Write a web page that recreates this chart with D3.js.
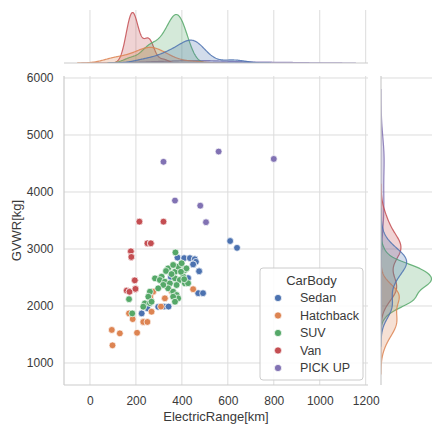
<!DOCTYPE html>
<html>
<head>
<meta charset="utf-8">
<script src="https://cdn.jsdelivr.net/npm/d3@7"></script>
<style>
  body { margin: 0; background: #fff; }
  svg { font-family: "Liberation Sans", Arial, sans-serif; }
</style>
</head>
<body>
<svg id="chart" width="432" height="428"></svg>
<script>
// 데이터: [ElectricRange(km), GVWR(kg)] — 같은 좌표가 반복되면 겹쳐 찍힌 점
const carBodies = ["Sedan", "Hatchback", "SUV", "Van", "PICK UP"];
const colors = ["#4c72b0", "#dd8452", "#55a868", "#c44e52", "#8172b3"];

const sedan = [[381,2850],[381,2850],[410,2840],[410,2840],[435,2840],[435,2840],
  [456,2820],[456,2820],[461,2775],[449,2730],[449,2730],[475,2610],[475,2610],
  [471,2225],[492,2225],[348,2400],[427,2490],[427,2490],[352,2510],[297,1985],[322,1990],[342,1990],
  [250,1960],[225,1870],[610,3140],[640,3020]];
const hatchback = [[95,1580],[130,1520],[205,1530],[98,1310],[170,1870],[186,1770],
  [232,1720],[232,1720],[250,1720],[268,1900],[309,1990],
  [326,2135],[326,2135],[275,2250],[275,2250],[262,2160],[262,2160],[449,2295],[355,2260]];
const suv = [[372,2940],[340,2660],[331,2614],[370,2600],[399,2720],[413,2631],[384,2690],
  [406,2514],[312,2514],[283,2485],[304,2456],[326,2426],[348,2397],[370,2485],[391,2456],
  [377,2368],[413,2397],[340,2310],[362,2251],[377,2193],[384,2134],[362,2163],[261,2251],
  [254,2163],[239,2047],[232,1988],[261,2050],[370,2075],[170,2120],[184,1870],[268,2075],
  [420,2660],[399,2750],[427,2400],[362,2720],[355,2560],[396,2600],[319,2370],[297,2310],[410,2470]];
const van = [[178,2960],[178,2960],[178,2960],[180,2860],[180,2860],[180,2860],
  [195,2450],[195,2450],[195,2450],[160,2270],[160,2270],[172,2250],[172,2250],
  [198,2300],[198,2300],[198,2300],
  [215,3480],[215,3480],[250,3100],[250,3100],[250,3100],[250,3100],
  [265,3100],[265,3100],[265,3100],[320,3480]];
const pickup = [[320,4530],[560,4710],[800,4580],[370,3850],[480,3760],[505,3470]];

const groups = [sedan, hatchback, suv, van, pickup];
const xTicks = [0, 200, 400, 600, 800, 1000, 1200];
const yTicks = [1000, 2000, 3000, 4000, 5000, 6000];

// 레이아웃
const main = { left: 64, right: 368, top: 76, bottom: 385 };
const topM = { top: 10, bottom: 63 };
const rightM = { left: 381, right: 434 };

const svg = d3.select("#chart");

const x = d3.scaleLinear().domain([-113, 1210]).range([main.left, main.right]);
const y = d3.scaleLinear().domain([614, 6035]).range([main.bottom, main.top]);

const gridColor = "#dcdcdc";
const spineColor = "#cccccc";

// 클립 영역
const defs = svg.append("defs");
defs.append("clipPath").attr("id", "clipTop").append("rect")
  .attr("x", main.left).attr("y", topM.top - 5)
  .attr("width", main.right - main.left).attr("height", topM.bottom - topM.top + 5);
defs.append("clipPath").attr("id", "clipRight").append("rect")
  .attr("x", rightM.left).attr("y", main.top)
  .attr("width", rightM.right - rightM.left + 5).attr("height", main.bottom - main.top);
defs.append("clipPath").attr("id", "clipMain").append("rect")
  .attr("x", main.left).attr("y", main.top)
  .attr("width", main.right - main.left).attr("height", main.bottom - main.top);

// 그리드
svg.append("g").selectAll("line").data(xTicks).join("line")
  .attr("x1", d => x(d)).attr("x2", d => x(d))
  .attr("y1", main.top).attr("y2", main.bottom)
  .attr("stroke", gridColor);
svg.append("g").selectAll("line").data(yTicks).join("line")
  .attr("x1", main.left).attr("x2", main.right)
  .attr("y1", d => y(d)).attr("y2", d => y(d))
  .attr("stroke", gridColor);
// 주변 그래프 그리드
svg.append("g").selectAll("line").data(xTicks).join("line")
  .attr("x1", d => x(d)).attr("x2", d => x(d))
  .attr("y1", topM.top).attr("y2", topM.bottom)
  .attr("stroke", gridColor);
svg.append("g").selectAll("line").data(yTicks).join("line")
  .attr("x1", rightM.left).attr("x2", rightM.right)
  .attr("y1", d => y(d)).attr("y2", d => y(d))
  .attr("stroke", gridColor);

// KDE (scott bandwidth, cut=3, common_norm)
const nTotal = d3.sum(groups, g => g.length);
function kde(values) {
  const n = values.length;
  const bw = d3.deviation(values) * Math.pow(n, -0.2);
  const lo = d3.min(values) - 3 * bw, hi = d3.max(values) + 3 * bw;
  const pts = [];
  for (let i = 0; i < 200; i++) {
    const g = lo + (hi - lo) * i / 199;
    let s = 0;
    for (const v of values) s += Math.exp(-0.5 * ((g - v) / bw) ** 2);
    pts.push([g, s / (n * bw * Math.sqrt(2 * Math.PI)) * (n / nTotal)]);
  }
  return pts;
}

const kdeX = groups.map(g => kde(g.map(d => d[0])));
const kdeY = groups.map(g => kde(g.map(d => d[1])));

const topScale = d3.scaleLinear()
  .domain([0, d3.max(kdeX, k => d3.max(k, d => d[1])) * 1.05])
  .range([topM.bottom, topM.top]);
const rightScale = d3.scaleLinear()
  .domain([0, d3.max(kdeY, k => d3.max(k, d => d[1])) * 1.05])
  .range([rightM.left, rightM.right]);

const topArea = d3.area().x(d => x(d[0])).y0(topM.bottom).y1(d => topScale(d[1]));
const rightArea = d3.area().y(d => y(d[0])).x0(rightM.left).x1(d => rightScale(d[1]));

const order = d3.range(groups.length).reverse();

svg.append("g").attr("clip-path", "url(#clipTop)")
  .selectAll("path").data(order).join("path")
  .attr("d", i => topArea(kdeX[i]))
  .attr("fill", i => colors[i]).attr("fill-opacity", 0.25)
  .attr("stroke", i => colors[i]).attr("stroke-width", 1.2).attr("stroke-opacity", 0.85);

svg.append("g").attr("clip-path", "url(#clipRight)")
  .selectAll("path").data(order).join("path")
  .attr("d", i => rightArea(kdeY[i]))
  .attr("fill", i => colors[i]).attr("fill-opacity", 0.25)
  .attr("stroke", i => colors[i]).attr("stroke-width", 1.2).attr("stroke-opacity", 0.85);

// 축선
svg.append("line").attr("x1", main.left).attr("x2", main.left)
  .attr("y1", main.top).attr("y2", main.bottom).attr("stroke", spineColor).attr("stroke-width", 1.2);
svg.append("line").attr("x1", main.left).attr("x2", main.right)
  .attr("y1", main.bottom).attr("y2", main.bottom).attr("stroke", spineColor).attr("stroke-width", 1.2);
svg.append("line").attr("x1", main.left).attr("x2", main.right)
  .attr("y1", topM.bottom).attr("y2", topM.bottom).attr("stroke", spineColor).attr("stroke-width", 1.2);
svg.append("line").attr("x1", rightM.left).attr("x2", rightM.left)
  .attr("y1", main.top).attr("y2", main.bottom).attr("stroke", spineColor).attr("stroke-width", 1.2);

// 산점도
const points = [];
groups.forEach((g, i) => g.forEach(d => points.push({ x: d[0], y: d[1], c: i })));
svg.append("g").attr("clip-path", "url(#clipMain)")
  .selectAll("circle").data(points).join("circle")
  .attr("cx", d => x(d.x)).attr("cy", d => y(d.y)).attr("r", 3.4)
  .attr("fill", d => colors[d.c])
  .attr("stroke", "#fff").attr("stroke-width", 0.7);

// 축 눈금 라벨
const xAxis = svg.append("g").attr("transform", `translate(0,${main.bottom})`)
  .call(d3.axisBottom(x).tickValues(xTicks).tickFormat(d3.format("d")).tickSize(0).tickPadding(11.5));
const yAxis = svg.append("g").attr("transform", `translate(${main.left},0)`)
  .call(d3.axisLeft(y).tickValues(yTicks).tickFormat(d3.format("d")).tickSize(0).tickPadding(10.5));
[xAxis, yAxis].forEach(a => {
  a.select(".domain").remove();
  a.selectAll("text").attr("font-size", 12).attr("fill", "#3a3a3a")
    .style("font-family", "'Liberation Sans', Arial, sans-serif");
});

svg.append("text").attr("x", (main.left + main.right) / 2).attr("y", 421)
  .attr("text-anchor", "middle").attr("font-size", 13).attr("fill", "#3a3a3a")
  .text("ElectricRange[km]");
svg.append("text")
  .attr("transform", `translate(21,${(main.top + main.bottom) / 2}) rotate(-90)`)
  .attr("text-anchor", "middle").attr("font-size", 13).attr("fill", "#3a3a3a")
  .text("GVWR[kg]");

// 범례
const legend = svg.append("g");
legend.append("rect").attr("x", 260).attr("y", 268).attr("width", 103).attr("height", 112)
  .attr("rx", 3).attr("fill", "#fff").attr("fill-opacity", 0.85)
  .attr("stroke", spineColor);
legend.append("text").attr("x", 311.5).attr("y", 285).attr("text-anchor", "middle")
  .attr("font-size", 13).attr("fill", "#3a3a3a").text("CarBody");
const items = legend.selectAll("g.item").data(carBodies).join("g")
  .attr("transform", (d, i) => `translate(278,${298 + i * 17.5})`);
items.append("circle").attr("r", 3.6).attr("fill", (d, i) => colors[i])
  .attr("stroke", "#fff").attr("stroke-width", 0.7);
items.append("text").attr("x", 22).attr("dy", "0.35em")
  .attr("font-size", 12.5).attr("fill", "#3a3a3a").text(d => d);
</script>
</body>
</html>
